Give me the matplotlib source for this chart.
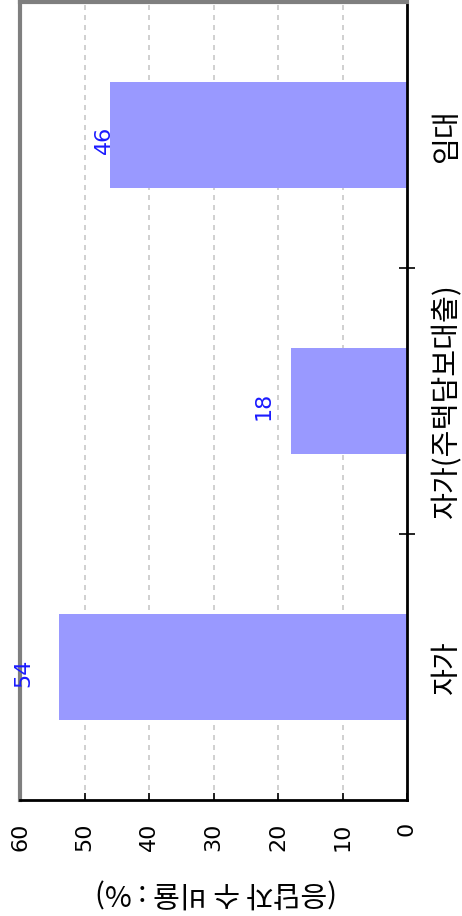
import matplotlib
matplotlib.use("Agg")
import matplotlib.pyplot as plt
from matplotlib.ticker import FixedLocator

plt.rcParams["font.family"] = ["Noto Sans CJK KR", "DejaVu Sans"]

categories = ["자가", "자가(주택담보대출)", "임대"]
values = [54, 18, 46]
value_ticks = [0, 10, 20, 30, 40, 50, 60]
axis_label = "(응답자 수 비율 : %)"

BAR_COLOR = "#9999ff"
LABEL_COLOR = "#1a1aff"
# how far (in value units) each number sits past the end of its bar
label_offsets = [5.5, 4.3, 1.0]


def main():
    fig = plt.figure(figsize=(4.62, 9.16), dpi=100)
    ax = fig.add_axes([20 / 462, 116 / 916, 387 / 462, 798 / 916])

    pos = list(range(len(categories)))
    ax.barh(pos, values, height=0.4, color=BAR_COLOR, zorder=2)

    for p, v, off in zip(pos, values, label_offsets):
        ax.text(v + off, p - 0.02, str(v), rotation=90, color=LABEL_COLOR,
                fontsize=16, family="DejaVu Sans",
                ha="center", va="center", zorder=3)

    ax.set_xlim(60, 0)
    ax.set_ylim(-0.5, len(categories) - 0.5)

    ax.set_xticks(value_ticks)
    ax.set_xticklabels([str(t) for t in value_ticks], rotation=90,
                       fontsize=16, family="DejaVu Sans")
    ax.tick_params(axis="x", direction="in", length=5, width=1.2, pad=16)

    ax.grid(axis="x", color="#c8c8c8", linestyle=(0, (3, 3)), linewidth=1.2, zorder=1)

    ax.yaxis.tick_right()
    ax.set_yticks(pos)
    ax.set_yticklabels(categories, rotation=90, fontsize=21, va="center")
    ax.tick_params(axis="y", which="major", length=0, pad=18)
    ax.yaxis.set_minor_locator(FixedLocator([0.5, 1.5]))
    ax.tick_params(axis="y", which="minor", direction="inout", length=12, width=1.2)

    for side in ("left", "top"):
        ax.spines[side].set_color("#7f7f7f")
        ax.spines[side].set_linewidth(3)
    for side in ("right", "bottom"):
        ax.spines[side].set_color("black")
        ax.spines[side].set_linewidth(2)

    fig.text(216 / 462, 1 - 892 / 916, axis_label, rotation=180,
             ha="center", va="center", fontsize=21)

    fig.savefig("out.png", dpi=100)
    plt.close(fig)


if __name__ == "__main__":
    main()
